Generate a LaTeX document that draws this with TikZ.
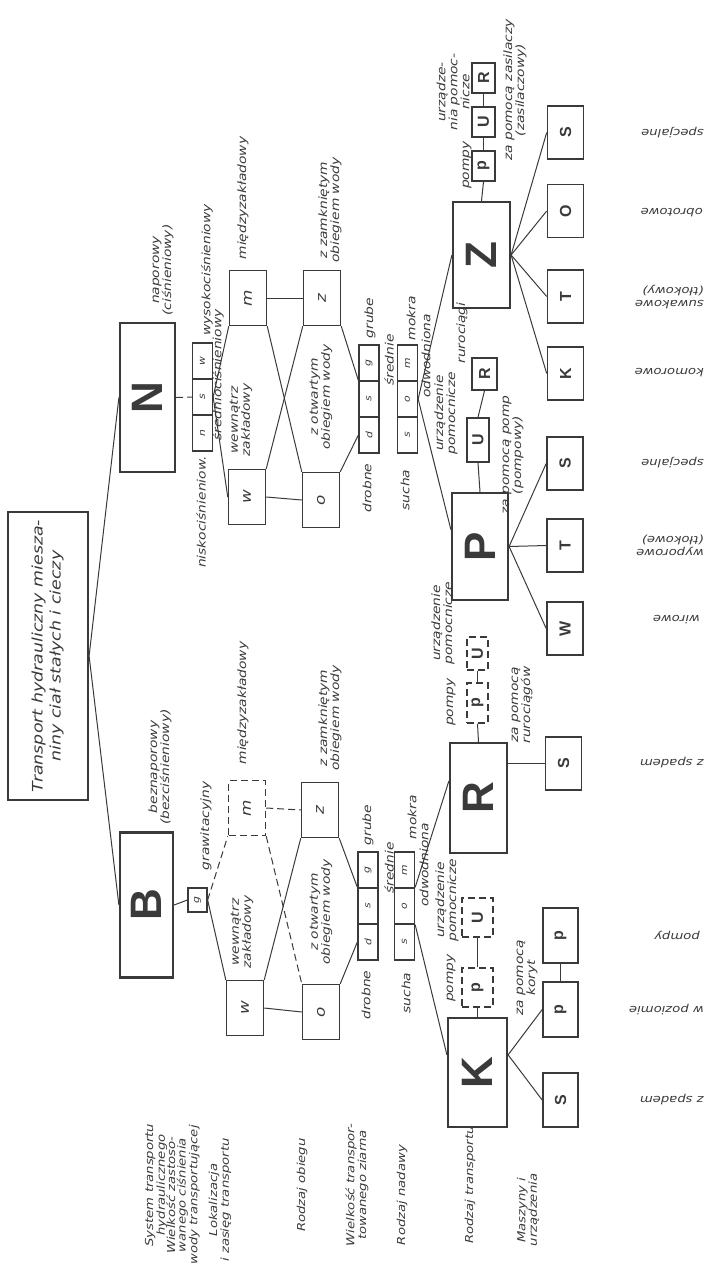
\documentclass[tikz,border=0pt]{standalone}
\usepackage{fontspec}
\setmainfont{DejaVu Sans}[FakeStretch=1.2]
\newfontfamily\ltrfont{Liberation Sans}
\usepackage{graphicx}
\usetikzlibrary{calc}
\definecolor{ink}{HTML}{3a3a3a}

\newcommand{\bigltr}[1]{\rotatebox{90}{\ltrfont\bfseries\fontsize{44}{44}\selectfont #1}}
\newcommand{\boxltr}[1]{\rotatebox{90}{\ltrfont\bfseries\fontsize{16}{16}\selectfont #1}}
\newcommand{\lvlltr}[1]{\rotatebox{90}{\itshape\fontsize{14}{14}\selectfont #1}}
\newcommand{\cellltr}[1]{\rotatebox{90}{\itshape\fontsize{9}{9}\selectfont #1}}

\begin{document}
\begin{tikzpicture}[x=1pt, y=-1pt,
  every node/.style={text=ink},
  bigbox/.style={draw=ink, line width=2.2pt, inner sep=0pt},
  smallbox/.style={draw=ink, line width=1.5pt, inner sep=0pt, minimum width=23pt, minimum height=30pt},
  dashbox/.style={smallbox, dash pattern=on 7pt off 4pt},
  endbox/.style={draw=ink, line width=1.6pt, inner sep=0pt, minimum width=36pt, minimum height=53pt},
  lvlbox/.style={draw=ink, line width=1.5pt, inner sep=0pt, minimum width=37pt, minimum height=55pt},
  cell/.style={draw=ink, line width=1.3pt, inner sep=0pt, minimum width=20pt, minimum height=36pt},
  lbl/.style={rotate=90, align=center, inner sep=0pt, font=\itshape\fontsize{11.5}{12}\selectfont},
  rlbl/.style={rotate=180, anchor=west, align=left, inner sep=0pt, font=\itshape\fontsize{11}{13}\selectfont},
  lvlcap/.style={rotate=90, align=center, inner sep=0pt, font=\itshape\fontsize{11}{10.5}\selectfont},
  conn/.style={draw=ink, line width=1pt},
  dconn/.style={conn, dash pattern=on 7pt off 4pt}
]
  \useasboundingbox (0,0) rectangle (712,1275);

  % root and systems
  \node[bigbox, minimum width=80pt, minimum height=288pt] (root) at (48,656)
    {\rotatebox{90}{\itshape\fontsize{14.5}{18}\selectfont
     \begin{tabular}{@{}c@{}}Transport hydrauliczny miesza-\\niny ciał stałych i cieczy\end{tabular}}};
  \node[bigbox, minimum width=55pt, minimum height=149pt] (N) at (147.5,397.5) {\bigltr{N}};
  \node[bigbox, minimum width=53pt, minimum height=145pt] (B) at (146.5,905) {\bigltr{B}};
  \node[lbl] (lNapor) at (163,270) {naporowy\\(ciśnieniowy)};
  \node[lbl] (lBeznap) at (160,767) {beznaporowy\\(bezciśnieniowy)};

  % segmented boxes: pressure, grain size, feed
  \foreach \nm/\cx/\ty/\la/\lb/\lc in {nsw/202.5/343/n/s/w, Nds/369/345/d/s/g,
      Nsm/407.5/345/s/o/m, Bds/368/852/d/s/g, Bsm/404.5/852/s/o/m} {
    \node[cell] (\nm-3) at (\cx,\ty+18) {\cellltr{\lc}};
    \node[cell] (\nm-2) at (\cx,\ty+54) {\cellltr{\lb}};
    \node[cell] (\nm-1) at (\cx,\ty+90) {\cellltr{\la}};
  }
  \node[draw=ink, line width=1.3pt, inner sep=0pt, minimum width=19pt, minimum height=24pt] (g) at (197.5,900) {\cellltr{g}};
  \node[lbl] (lWys) at (207,270) {wysokociśnieniowy};
  \node[lbl] (lSred) at (218,375) {średniociśnieniowy};
  \node[lbl] (lNisk) at (201,512) {niskociśnieniow.};
  \node[lbl] (lGraw) at (206,826) {grawitacyjny};

  % localisation
  \node[lvlbox] (Nm) at (248,298) {\lvlltr{m}};
  \node[lvlbox] (Nw) at (247,497) {\lvlltr{w}};
  \node[lvlbox, dash pattern=on 7pt off 4pt] (Bm) at (247,808) {\lvlltr{m}};
  \node[lvlbox] (Bw) at (245,1008) {\lvlltr{w}};
  \node[lbl] (lNmiedz) at (243,198) {międzyzakładowy};
  \node[lbl] (lNwewn) at (241,420) {wewnątrz\\zakładowy};
  \node[lbl] (lBmiedz) at (243,703) {międzyzakładowy};
  \node[lbl] (lBwewn) at (242,932) {wewnątrz\\zakładowy};

  % circulation
  \node[lvlbox] (Nz) at (322,298) {\lvlltr{z}};
  \node[lvlbox] (Na) at (321,500) {\lvlltr{o}};
  \node[lvlbox] (Bz) at (320,810) {\lvlltr{z}};
  \node[lvlbox] (Ba) at (321,1012) {\lvlltr{o}};
  \node[lbl] (lNzamk) at (330,210) {z zamkniętym\\obiegiem wody};
  \node[lbl] (lNotw) at (321,397) {z otwartym\\obiegiem wody};
  \node[lbl] (lBzamk) at (330,718) {z zamkniętym\\obiegiem wody};
  \node[lbl] (lBotw) at (321,912) {z otwartym\\obiegiem wody};

  % grain and feed labels
  \node[lbl] (lNgrube) at (370,318) {grube};
  \node[lbl] (lNsred) at (389,360) {średnie};
  \node[lbl] (lNdrob) at (367,488) {drobne};
  \node[lbl] (lNmokra) at (411,318) {mokra};
  \node[lbl] (lNodw) at (426,356) {odwodniona};
  \node[lbl] (lNsucha) at (405,490) {sucha};
  \node[lbl] (lBgrube) at (368,825) {grube};
  \node[lbl] (lBsred) at (389,868) {średnie};
  \node[lbl] (lBdrob) at (366,995) {drobne};
  \node[lbl] (lBmokra) at (412,817) {mokra};
  \node[lbl] (lBodw) at (424,865) {odwodniona};
  \node[lbl] (lBsucha) at (406,993) {sucha};

  % transport kinds
  \node[bigbox, minimum width=57pt, minimum height=106pt] (Z) at (481.5,255) {\bigltr{Z}};
  \node[bigbox, minimum width=56pt, minimum height=107pt] (P) at (480,546.5) {\bigltr{P}};
  \node[bigbox, minimum width=57pt, minimum height=110pt] (R) at (478.5,798) {\bigltr{R}};
  \node[bigbox, minimum width=59pt, minimum height=109pt] (K) at (477.5,1072.5) {\bigltr{K}};

  \node[smallbox] (Zp) at (483.5,166) {\boxltr{p}};
  \node[smallbox] (ZU) at (483.5,122) {\boxltr{U}};
  \node[smallbox] (ZR) at (483.5,78) {\boxltr{R}};
  \node[smallbox, minimum width=22pt, minimum height=44pt] (PU) at (478,440) {\boxltr{U}};
  \node[smallbox, minimum width=25pt, minimum height=32pt] (PR) at (484.5,374) {\boxltr{R}};
  \node[dashbox, minimum width=21pt, minimum height=40pt] (Rp) at (477.5,703) {\boxltr{p}};
  \node[dashbox, minimum width=21pt, minimum height=33pt] (RU) at (477.5,653.5) {\boxltr{U}};
  \node[dashbox, minimum width=31pt, minimum height=39pt] (Kp) at (477.5,987.5) {\boxltr{p}};
  \node[dashbox, minimum width=31pt, minimum height=39pt] (KU) at (477.5,917.5) {\boxltr{U}};

  \node[lbl] (lZpompy) at (467,165) {pompy};
  \node[lbl] (lZurz) at (453,92) {urządze-\\nia pomoc-\\nicze};
  \node[lbl] (lZzas) at (515,90) {za pomocą zasilaczy\\(zasilaczowy)};
  \node[lbl] (lPurz) at (446,413) {urządzenie\\pomocnicze};
  \node[lbl] (lPrur) at (462,333) {rurociągi};
  \node[lbl] (lPpomp) at (513,455) {za pomocą pomp\\(pompowy)};
  \node[lbl] (lRpompy) at (451,702) {pompy};
  \node[lbl] (lRurz) at (443,623) {urządzenie\\pomocnicze};
  \node[lbl] (lRrur) at (522,705) {za pomocą\\rurociągów};
  \node[lbl] (lKpompy) at (451,978) {pompy};
  \node[lbl] (lKurz) at (447,900) {urządzenie\\pomocnicze};
  \node[lbl] (lKkor) at (527,978) {za pomocą\\koryt};

  % machines
  \node[endbox] (ZS) at (565.5,132.5) {\boxltr{S}};
  \node[endbox] (ZO) at (565.5,211) {\boxltr{O}};
  \node[endbox] (ZT) at (565.5,296.5) {\boxltr{T}};
  \node[endbox] (ZK) at (565.5,373.5) {\boxltr{K}};
  \node[endbox] (PS) at (565,463.5) {\boxltr{S}};
  \node[endbox] (PT) at (565,545.5) {\boxltr{T}};
  \node[endbox] (PW) at (565,628.5) {\boxltr{W}};
  \node[endbox] (RS) at (563.5,763.5) {\boxltr{S}};
  \node[endbox, minimum width=35pt, minimum height=55pt] (Kpp) at (560.5,935.5) {\boxltr{p}};
  \node[endbox, minimum width=35pt, minimum height=55pt] (Kpw) at (560.5,1009.5) {\boxltr{p}};
  \node[endbox, minimum width=35pt, minimum height=54pt] (KS) at (560.5,1100) {\boxltr{S}};

  \node[rlbl] (lZspec) at (704,133) {specjalne};
  \node[rlbl] (lZobr) at (703,213) {obrotowe};
  \node[rlbl] (lZsuw) at (704,297) {suwakowe\\(tłokowy)};
  \node[rlbl] (lZkom) at (704,373) {komorowe};
  \node[rlbl] (lPspec) at (704,463) {specjalne};
  \node[rlbl] (lPwyp) at (704,545) {wyporowe\\(tłokowe)};
  \node[rlbl] (lPwir) at (700,620) {wirowe};
  \node[rlbl] (lRspad) at (704,763) {z spadem};
  \node[rlbl] (lKpompy) at (700,935) {pompy};
  \node[rlbl] (lKpoz) at (704,1010) {w poziomie};
  \node[rlbl] (lKspad) at (704,1100) {z spadem};

  % level captions
  \node[lvlcap] (cSys) at (156,1185) {System transportu\\hydraulicznego};
  \node[lvlcap] (cCisn) at (183,1195) {Wielkość zastoso-\\wanego ciśnienia\\wody transportującej};
  \node[lvlcap] (cLok) at (220,1200) {Lokalizacja\\i zasięg transportu};
  \node[lvlcap] (cObieg) at (302,1185) {Rodzaj obiegu};
  \node[lvlcap] (cZiarno) at (357,1185) {Wielkość transpor-\\towanego ziarna};
  \node[lvlcap] (cNadawa) at (402,1195) {Rodzaj nadawy};
  \node[lvlcap] (cTrans) at (470,1185) {Rodzaj transportu};
  \node[lvlcap] (cMasz) at (528,1210) {Maszyny i\\urządzenia};

  % connectors
  \draw[conn] (root.east) -- (N.west);
  \draw[conn] (root.east) -- (B.west);
  \draw[dconn] (N.east) -- (nsw-2.west);
  \draw[conn] (B.east) -- (g.west);
  \draw[conn] (nsw-2.east) -- (Nm.south west);
  \draw[conn] (nsw-2.east) -- (Nw.west);
  \draw[dconn] (g.east) -- (Bm.south west);
  \draw[conn] (g.east) -- (Bw.north west);

  \draw[conn] (Nm.east) -- (Nz.west);
  \draw[conn] (Nw.east) -- (Na.west);
  \draw[conn] (Nm.south east) -- (Na.north west);
  \draw[conn] (Nz.south west) -- (Nw.north east);
  \draw[dconn] (Bm.east) -- (Bz.west);
  \draw[conn] (Bw.east) -- (Ba.west);
  \draw[dconn] (Bm.south east) -- (Ba.north west);
  \draw[conn] (Bz.south west) -- (Bw.north east);

  \draw[conn] (Nz.south east) -- (Nds-2.north west);
  \draw[conn] (Na.north east) -- (Nds-1.west);
  \draw[conn] (Bz.south east) -- (Bds-2.north west);
  \draw[conn] (Ba.north east) -- (Bds-1.west);

  \draw[conn] (Nsm-2.east) -- (Z.west);
  \draw[conn] (Nsm-2.east) -- (P.150);
  \draw[conn] (Bsm-2.north east) -- (R.150);
  \draw[conn] (Bsm-2.south east) -- (K.150);

  \draw[conn] (Z.north) -- (Zp.south);
  \draw[conn] (Zp.north) -- (ZU.south);
  \draw[conn] (ZU.north) -- (ZR.south);
  \draw[conn] (P.north) -- (PU.south);
  \draw[conn] (PU.north) -- (PR.south);
  \draw[conn] (R.north) -- (Rp.south);
  \draw[conn] (Rp.north) -- (RU.south);
  \draw[conn] (K.north) -- (Kp.south);
  \draw[conn] (Kp.north) -- (KU.south);

  \foreach \t in {ZS,ZO,ZT,ZK} \draw[conn] (Z.east) -- (\t.west);
  \foreach \t in {PS,PT,PW} \draw[conn] (P.east) -- (\t.west);
  \draw[conn] (RS.west) -- (RS.west -| R.east);
  \draw[conn] (K.30) -- (Kpw.west);
  \draw[conn] (K.30) -- (KS.west);
  \draw[conn] (Kpw.north) -- (Kpp.south);
\end{tikzpicture}
\end{document}
